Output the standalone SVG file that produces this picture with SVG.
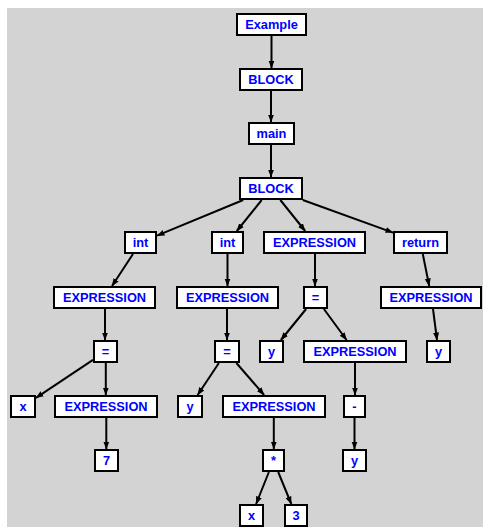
<svg xmlns="http://www.w3.org/2000/svg" width="483" height="527" viewBox="0 0 483 527">
<style>
.n rect{fill:#fff;stroke:#000;stroke-width:2}
.n text{font-family:"Liberation Sans",Arial,sans-serif;font-weight:bold;font-size:12.8px;fill:#0000ff;text-anchor:middle}
.e line{stroke:#000;stroke-width:2;marker-end:url(#ah)}
</style>
<defs>
<marker id="ah" markerUnits="userSpaceOnUse" markerWidth="8" markerHeight="8" viewBox="0 0 8 8" refX="7.5" refY="4" orient="auto">
<path d="M0,1 L8,4 L0,7 z" fill="#000"/>
</marker>
</defs>
<rect x="7" y="8" width="476" height="519" fill="#d3d3d3"/>
<g id="edges" class="e">
<line x1="271.5" y1="36" x2="271.5" y2="68"/>
<line x1="271" y1="91" x2="271" y2="122"/>
<line x1="271" y1="145" x2="271" y2="177"/>
<line x1="243.2" y1="200" x2="157" y2="235.7"/>
<line x1="261.7" y1="200" x2="236.8" y2="231"/>
<line x1="280.3" y1="200" x2="305.2" y2="231"/>
<line x1="302.8" y1="200" x2="393" y2="232.6"/>
<line x1="133" y1="254" x2="112" y2="286"/>
<line x1="227.5" y1="254" x2="227.5" y2="286"/>
<line x1="315" y1="254" x2="315" y2="286"/>
<line x1="422.8" y1="254" x2="429.2" y2="286"/>
<line x1="105" y1="309" x2="105" y2="340"/>
<line x1="227" y1="309" x2="227" y2="340"/>
<line x1="306.1" y1="309" x2="280.9" y2="340"/>
<line x1="323.9" y1="309" x2="346.6" y2="340"/>
<line x1="433" y1="309" x2="437" y2="340"/>
<line x1="93" y1="359.8" x2="36" y2="397.8"/>
<line x1="105.8" y1="363" x2="105.8" y2="395"/>
<line x1="218.9" y1="363" x2="197.6" y2="395"/>
<line x1="236.4" y1="363" x2="264.1" y2="395"/>
<line x1="355" y1="363" x2="355" y2="395"/>
<line x1="106.3" y1="418" x2="106.3" y2="449"/>
<line x1="273.8" y1="418" x2="273.8" y2="449"/>
<line x1="354.5" y1="418" x2="354.5" y2="449"/>
<line x1="268.9" y1="472" x2="256.1" y2="504"/>
<line x1="278.2" y1="472" x2="291.3" y2="504"/>
</g>
<g id="n_example" class="n"><rect x="237" y="14" width="69" height="21"/><text x="271.5" y="28.6">Example</text></g>
<g id="n_block1" class="n"><rect x="240" y="69" width="62" height="21"/><text x="271" y="83.6">BLOCK</text></g>
<g id="n_main" class="n"><rect x="249" y="123" width="45" height="21"/><text x="271.5" y="137.6">main</text></g>
<g id="n_block2" class="n"><rect x="240" y="178" width="62" height="21"/><text x="271" y="192.6">BLOCK</text></g>
<g id="n_int1" class="n"><rect x="125" y="232" width="31" height="21"/><text x="140.5" y="246.6">int</text></g>
<g id="n_int2" class="n"><rect x="212" y="232" width="31" height="21"/><text x="227.5" y="246.6">int</text></g>
<g id="n_expr_a" class="n"><rect x="264" y="232" width="101" height="21"/><text x="314.5" y="246.6">EXPRESSION</text></g>
<g id="n_return" class="n"><rect x="394" y="232" width="53" height="21"/><text x="420.5" y="246.6">return</text></g>
<g id="n_expr1" class="n"><rect x="54" y="287" width="101" height="21"/><text x="104.5" y="301.6">EXPRESSION</text></g>
<g id="n_expr2" class="n"><rect x="177" y="287" width="101" height="21"/><text x="227.5" y="301.6">EXPRESSION</text></g>
<g id="n_eq3" class="n"><rect x="304" y="287" width="23" height="21"/><text x="315.5" y="301.6">=</text></g>
<g id="n_expr_r" class="n"><rect x="381" y="287" width="100" height="21"/><text x="431" y="301.6">EXPRESSION</text></g>
<g id="n_eq1" class="n"><rect x="94" y="341" width="23" height="21"/><text x="105.5" y="355.6">=</text></g>
<g id="n_eq2" class="n"><rect x="215" y="341" width="24" height="21"/><text x="227" y="355.6">=</text></g>
<g id="n_y3" class="n"><rect x="260" y="341" width="23" height="21"/><text x="271.5" y="355.6">y</text></g>
<g id="n_expr3" class="n"><rect x="304" y="341" width="102" height="21"/><text x="355" y="355.6">EXPRESSION</text></g>
<g id="n_yr" class="n"><rect x="427" y="341" width="23" height="21"/><text x="438.5" y="355.6">y</text></g>
<g id="n_x1" class="n"><rect x="11" y="396" width="24" height="21"/><text x="23" y="410.6">x</text></g>
<g id="n_expr4" class="n"><rect x="55" y="396" width="102" height="21"/><text x="106" y="410.6">EXPRESSION</text></g>
<g id="n_y2" class="n"><rect x="178" y="396" width="24" height="21"/><text x="190" y="410.6">y</text></g>
<g id="n_expr5" class="n"><rect x="223" y="396" width="102" height="21"/><text x="274" y="410.6">EXPRESSION</text></g>
<g id="n_minus" class="n"><rect x="344" y="396" width="21" height="21"/><text x="354.5" y="410.6">-</text></g>
<g id="n_seven" class="n"><rect x="95" y="450" width="23" height="21"/><text x="106.5" y="464.6">7</text></g>
<g id="n_star" class="n"><rect x="263" y="450" width="21" height="21"/><text x="273.5" y="464.6">*</text></g>
<g id="n_y4" class="n"><rect x="343" y="450" width="23" height="21"/><text x="354.5" y="464.6">y</text></g>
<g id="n_x2" class="n"><rect x="240" y="505" width="23" height="21"/><text x="251.5" y="519.6">x</text></g>
<g id="n_three" class="n"><rect x="285" y="505" width="22" height="21"/><text x="296" y="519.6">3</text></g>
</svg>
